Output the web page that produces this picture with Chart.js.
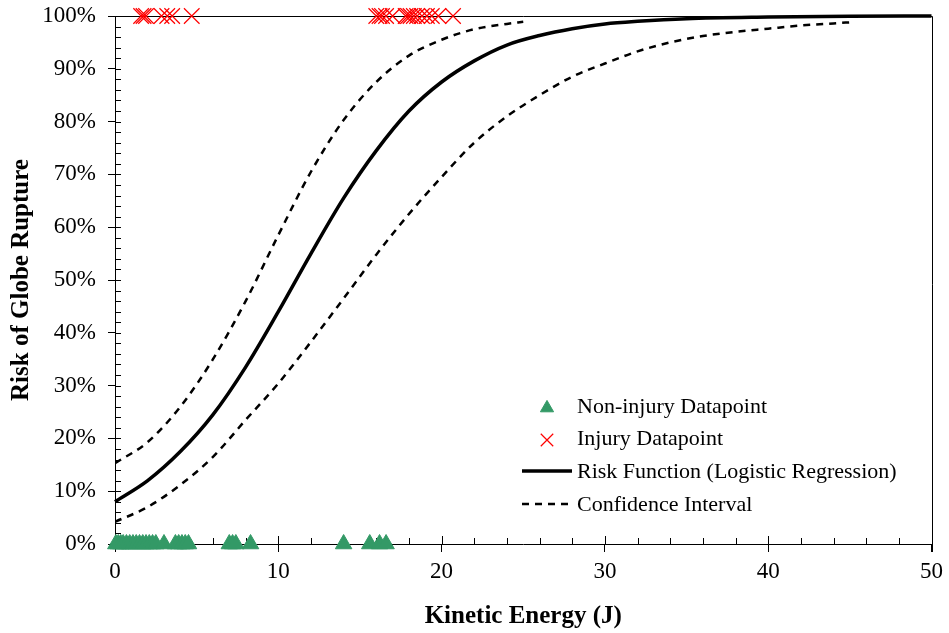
<!DOCTYPE html>
<html>
<head>
<meta charset="utf-8">
<script src="https://cdn.jsdelivr.net/npm/chart.js@4.4.1/dist/chart.umd.min.js"></script>
<style>
  html, body { margin: 0; padding: 0; background: #fff; }
  #wrap { width: 949px; height: 633px; }
</style>
</head>
<body>
<div id="wrap"><canvas id="riskChart" width="949" height="633"></canvas></div>
<script>
// tick settings
const energyTicks = [0, 10, 20, 30, 40, 50];
const riskTicks = [0, 10, 20, 30, 40, 50, 60, 70, 80, 90, 100];

// risk function (logistic regression)
const riskX = [0, 2, 4, 6, 8, 10, 12, 14, 16, 18, 20, 22, 24, 26, 28, 30, 32, 35, 40, 45, 50];
const riskY = [8.0, 12.0, 17.5, 24.5, 33.5, 44, 55, 65.5, 74.5, 82, 87.5, 91.5, 94.5, 96.3, 97.6, 98.5, 99.0, 99.5, 99.8, 99.95, 100];

// confidence interval, upper and lower
const upperX = [0, 2, 4, 6, 8, 10, 12, 14, 16, 18, 20, 22, 24, 25];
const upperY = [15.3, 19.3, 26, 35, 46, 58.5, 70.5, 80.3, 87.5, 92.5, 95.5, 97.5, 98.5, 98.9];
const lowerX = [0, 2, 4, 6, 8, 10, 12, 14, 16, 18, 20, 22, 24, 26, 28, 30, 32, 34, 36, 38, 40, 42, 44, 45];
const lowerY = [4.2, 7.0, 11.2, 16.5, 23.5, 30.4, 38.3, 46.5, 54.8, 62.5, 69.5, 76, 81, 85, 88.5, 91, 93.3, 95, 96.2, 97, 97.6, 98.2, 98.6, 98.8];

// datapoints (injury at 100%, non-injury at 0%)
const injuryX = [1.6, 1.75, 1.9, 2.85, 3.2, 3.5, 4.7, 16.0, 16.2, 16.35, 16.6, 17.0, 17.8, 17.95, 18.1, 18.3, 18.5, 18.8, 19.1, 19.4, 19.8, 20.7];
const nonInjuryX = [0.05, 0.2, 0.35, 0.5, 0.7, 0.9, 1.1, 1.3, 1.5, 1.7, 1.9, 2.1, 2.3, 2.5, 3.0, 3.7, 3.9, 4.1, 4.3, 4.5, 7.0, 7.2, 7.4, 8.3, 14.0, 15.6, 16.2, 16.6];

const FONT = "'Liberation Serif', 'Times New Roman', serif";

function toPoints(xs, ys) {
  return xs.map((x, i) => ({ x: x, y: ys[i] }));
}

// frame on top/right plus the small inside ticks
const frame = {
  id: "frame",
  beforeDatasetsDraw(chart) {
    const ctx = chart.ctx;
    const a = chart.chartArea;
    const xs = chart.scales.x;
    const ys = chart.scales.y;
    ctx.save();
    ctx.strokeStyle = "#000";
    ctx.lineWidth = 1;
    ctx.beginPath();
    ctx.moveTo(a.left, Math.round(a.top) + 0.5);
    ctx.lineTo(Math.round(a.right) + 0.5, Math.round(a.top) + 0.5);
    ctx.lineTo(Math.round(a.right) + 0.5, a.bottom + 8);
    for (let v = 0; v <= 100; v += 2) {
      const py = Math.round(ys.getPixelForValue(v)) + 0.5;
      ctx.moveTo(a.left, py);
      ctx.lineTo(a.left + 6, py);
    }
    for (let v = 0; v <= 50; v += 2) {
      const px = Math.round(xs.getPixelForValue(v)) + 0.5;
      ctx.moveTo(px, a.bottom);
      ctx.lineTo(px, a.bottom - (v % 10 === 0 ? 8 : 6));
    }
    ctx.stroke();
    ctx.restore();
  }
};

// legend drawn inside the plot
const innerLegend = {
  id: "innerLegend",
  afterDraw(chart) {
    const ctx = chart.ctx;
    const ds = chart.data.datasets;
    const left = 522, textX = 577;
    const rows = [406, 438, 471, 504];
    ctx.save();
    ctx.font = "22px " + FONT;
    ctx.textBaseline = "middle";
    ds.slice(0, 4).forEach((d, i) => {
      const y = rows[i];
      if (d.type === "scatter") {
        ctx.fillStyle = d.backgroundColor;
        ctx.strokeStyle = d.borderColor;
        ctx.lineWidth = d.borderWidth;
        Chart.helpers.drawPoint(ctx, {
          pointStyle: d.pointStyle,
          radius: d.pointRadius * 0.8,
          borderWidth: d.borderWidth
        }, 547, y + 2);
      } else {
        ctx.strokeStyle = d.borderColor;
        ctx.lineWidth = d.borderWidth;
        ctx.setLineDash(d.borderDash || []);
        ctx.beginPath();
        ctx.moveTo(left, y);
        ctx.lineTo(572, y);
        ctx.stroke();
        ctx.setLineDash([]);
      }
      ctx.fillStyle = "#000";
      ctx.fillText(d.label, textX, y + 1);
    });
    ctx.restore();
  }
};

const ctx = document.getElementById("riskChart");

new Chart(ctx, {
  data: {
    datasets: [
      {
        type: "scatter",
        label: "Non-injury Datapoint",
        data: nonInjuryX.map(x => ({ x: x, y: 0 })),
        pointStyle: "triangle",
        pointRadius: 9.5,
        backgroundColor: "#339966",
        borderColor: "#339966",
        borderWidth: 1,
        clip: false,
        order: 2
      },
      {
        type: "scatter",
        label: "Injury Datapoint",
        data: injuryX.map(x => ({ x: x, y: 100 })),
        pointStyle: "crossRot",
        pointRadius: 11,
        backgroundColor: "#ff0000",
        borderColor: "#ff0000",
        borderWidth: 1.2,
        clip: false,
        order: 2
      },
      {
        type: "line",
        label: "Risk Function (Logistic Regression)",
        data: toPoints(riskX, riskY),
        borderColor: "#000",
        borderWidth: 3.5,
        pointRadius: 0,
        cubicInterpolationMode: "monotone",
        clip: false,
        order: 1
      },
      {
        type: "line",
        label: "Confidence Interval",
        data: toPoints(upperX, upperY),
        borderColor: "#000",
        borderWidth: 2.5,
        borderDash: [7, 6],
        pointRadius: 0,
        cubicInterpolationMode: "monotone",
        order: 1
      },
      {
        type: "line",
        label: "Confidence Interval (lower)",
        data: toPoints(lowerX, lowerY),
        borderColor: "#000",
        borderWidth: 2.5,
        borderDash: [7, 6],
        pointRadius: 0,
        cubicInterpolationMode: "monotone",
        order: 1
      }
    ]
  },
  options: {
    responsive: false,
    animation: false,
    layout: { padding: { top: 16, right: 17, left: 0, bottom: 0 } },
    plugins: {
      legend: { display: false },
      tooltip: { enabled: false }
    },
    scales: {
      x: {
        type: "linear",
        min: 0,
        max: 50,
        afterFit: (axis) => { axis.height = 89; },
        afterBuildTicks: (axis) => { axis.ticks = energyTicks.map(v => ({ value: v })); },
        ticks: {
          color: "#000",
          font: { family: FONT, size: 23 },
          padding: 6,
          maxRotation: 0
        },
        grid: { drawOnChartArea: false, drawTicks: true, tickLength: 8, color: "#000" },
        border: { display: true, color: "#000", width: 1 },
        title: {
          display: true,
          text: "Kinetic Energy (J)",
          color: "#000",
          font: { family: FONT, size: 25, weight: "bold" },
          padding: { top: 0, bottom: 1 }
        }
      },
      y: {
        type: "linear",
        min: 0,
        max: 100,
        afterFit: (axis) => { axis.width = 115; },
        afterBuildTicks: (axis) => { axis.ticks = riskTicks.map(v => ({ value: v })); },
        ticks: {
          color: "#000",
          font: { family: FONT, size: 23, lineHeight: 0.2 },
          padding: 12,
          callback: (v) => v + "%"
        },
        grid: { drawOnChartArea: false, drawTicks: true, tickLength: 7, color: "#000" },
        border: { display: true, color: "#000", width: 1 },
        title: {
          display: true,
          text: "Risk of Globe Rupture",
          color: "#000",
          font: { family: FONT, size: 25, weight: "bold" },
          padding: { top: 7, bottom: 0 }
        }
      }
    }
  },
  plugins: [frame, innerLegend]
});
</script>
</body>
</html>
